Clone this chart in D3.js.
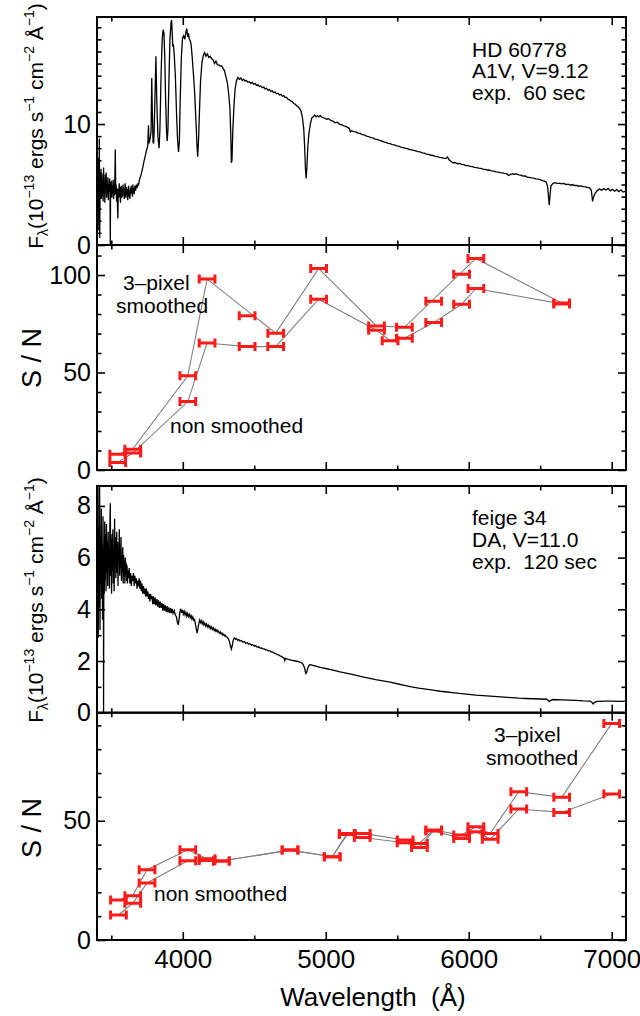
<!DOCTYPE html>
<html><head><meta charset="utf-8">
<script src="https://cdn.jsdelivr.net/npm/d3@7"></script>
<style>
body{margin:0;background:#fff}
svg{display:block;font-family:"Liberation Sans",Arial,Helvetica,sans-serif}
</style>
</head><body>
<svg id="c" width="640" height="1016"></svg>
<script>
// ---------------- DATA ----------------
const xMajorTicks = [4000, 5000, 6000, 7000];
const xMinorTicks = [3500, 4500, 5500, 6500];

// HD 60778 spectrum  [wavelength (A), flux (1e-13 erg/s/cm2/A)]
const hdSpectrum = [
[3402,6.5],[3405,3.0],[3408,7.2],[3410,4.5],[3413,1.2],[3416,8.8],[3419,0.6],[3422,5.8],[3425,4.2],[3428,6.3],
[3431,3.8],[3434,5.9],[3437,4.0],[3440,5.5],[3443,3.6],[3446,6.4],[3449,4.3],[3452,5.2],[3455,3.5],[3458,5.8],
[3461,4.6],[3464,6.0],[3467,3.9],[3470,5.1],[3473,4.2],[3476,5.6],[3479,3.7],[3482,5.0],[3485,4.4],[3488,5.5],
[3491,4.8],[3493,0.0],[3495,5.2],[3498,4.1],[3501,5.3],[3504,3.9],[3507,4.9],[3510,4.3],[3513,5.4],[3516,3.8],
[3519,5.0],[3522,4.1],[3525,5.6],[3528,7.9],[3531,4.2],[3534,5.0],[3537,3.6],[3540,4.7],[3543,3.4],[3546,2.2],
[3549,4.6],[3552,3.9],[3555,5.1],[3558,4.0],[3561,4.8],[3564,3.5],[3567,4.5],[3570,4.9],[3573,3.9],[3576,4.6],
[3579,4.0],[3582,5.0],[3585,4.2],[3588,4.7],[3591,3.8],[3594,4.4],[3597,5.1],[3600,4.3],[3603,3.9],[3606,4.8],
[3609,4.1],[3612,4.6],[3615,3.7],[3618,4.5],[3621,4.9],[3624,4.0],[3627,4.4],[3630,3.8],[3633,4.7],[3636,4.2],
[3639,4.9],[3642,4.3],[3645,4.6],[3648,4.0],[3651,5.0],[3654,4.4],[3657,4.7],[3660,4.2],[3665,4.9],[3670,4.5],
[3675,5.0],[3680,4.7],[3685,5.1],[3690,4.9],[3695,5.3],[3700,5.5],[3710,5.9],[3720,6.4],[3730,7.0],[3740,7.5],
[3750,8.0],[3755,8.2],[3760,9.9],[3763,8.4],[3768,8.6],[3773,8.9],[3778,9.4],[3783,13.8],[3787,11.0],[3792,8.5],
[3796,8.4],[3800,9.5],[3806,12.5],[3812,15.6],[3818,12.0],[3826,9.0],[3834,8.0],[3840,9.5],[3848,14.0],[3856,17.0],
[3862,17.8],[3868,17.6],[3874,15.5],[3880,12.0],[3886,9.5],[3891,8.6],[3896,9.5],[3902,13.0],[3910,17.0],[3918,18.4],
[3922,18.6],[3926,17.5],[3930,16.4],[3934,16.6],[3940,15.8],[3948,14.0],[3956,11.0],[3963,8.8],[3970,7.7],[3976,8.5],
[3982,12.0],[3990,15.5],[3998,17.1],[4006,17.3],[4014,17.0],[4022,17.6],[4028,17.9],[4034,17.2],[4040,17.5],[4046,17.0],
[4052,16.9],[4058,16.6],[4066,15.5],[4074,14.2],[4082,12.8],[4090,10.8],[4098,8.6],[4104,7.3],[4110,8.6],[4116,10.8],
[4124,13.5],[4134,15.1],[4144,15.7],[4153,15.9],[4162,15.6],[4172,15.8],[4182,15.5],[4192,15.6],[4202,15.4],[4212,15.3],
[4222,15.0],[4232,15.2],[4242,14.9],[4252,14.9],[4262,14.8],[4272,14.8],[4282,14.6],[4292,14.4],[4302,13.9],[4312,13.4],
[4322,12.4],[4330,11.2],[4336,9.0],[4340,6.8],[4344,7.0],[4350,9.5],[4358,11.5],[4366,12.9],[4376,13.6],[4386,13.85],
[4396,13.7],[4406,13.8],[4416,13.6],[4426,13.7],[4436,13.55],[4446,13.6],[4456,13.45],[4466,13.5],[4476,13.35],[4486,13.45],
[4496,13.3],[4506,13.35],[4516,13.2],[4526,13.25],[4536,13.1],[4546,13.15],[4556,13.0],[4566,13.05],[4576,12.9],[4586,12.95],
[4596,12.8],[4606,12.85],[4616,12.7],[4626,12.75],[4636,12.6],[4646,12.65],[4656,12.5],[4666,12.55],[4676,12.4],[4686,12.45],
[4696,12.3],[4706,12.35],[4716,12.2],[4726,12.2],[4736,12.05],[4746,12.0],[4756,11.9],[4766,11.85],[4776,11.7],[4786,11.65],
[4796,11.5],[4806,11.45],[4816,11.3],[4826,11.1],[4836,10.6],[4846,9.6],[4852,8.2],[4858,6.3],[4863,5.5],[4868,6.4],
[4874,8.0],[4882,9.2],[4892,10.0],[4902,10.5],[4912,10.6],[4922,10.75],[4932,10.6],[4942,10.7],[4952,10.6],[4962,10.7],
[4975,10.55],[4990,10.5],[5005,10.4],[5020,10.45],[5035,10.3],[5050,10.25],[5065,10.1],[5080,10.15],[5095,10.0],[5110,9.95],
[5125,9.85],[5140,9.8],[5155,9.7],[5165,9.65],[5172,9.35],[5180,9.45],[5195,9.38],[5210,9.35],[5225,9.25],[5240,9.22],
[5255,9.12],[5270,9.1],[5285,9.0],[5300,8.97],[5315,8.88],[5330,8.85],[5345,8.76],[5360,8.73],[5375,8.65],[5390,8.6],
[5405,8.52],[5420,8.48],[5435,8.4],[5450,8.38],[5465,8.3],[5480,8.27],[5495,8.2],[5510,8.17],[5525,8.1],[5540,8.06],
[5555,8.0],[5570,7.97],[5585,7.9],[5600,7.87],[5615,7.82],[5630,7.78],[5645,7.72],[5660,7.7],[5675,7.62],[5690,7.6],
[5705,7.52],[5720,7.5],[5735,7.42],[5750,7.4],[5765,7.33],[5780,7.3],[5795,7.25],[5810,7.22],[5825,7.18],[5840,7.15],
[5852,7.28],[5862,7.05],[5876,6.9],[5890,6.8],[5905,6.82],[5920,6.72],[5935,6.75],[5950,6.66],[5965,6.65],[5980,6.57],
[5995,6.56],[6010,6.5],[6025,6.48],[6040,6.42],[6055,6.4],[6070,6.35],[6085,6.33],[6100,6.27],[6115,6.26],[6130,6.2],
[6145,6.18],[6160,6.12],[6175,6.1],[6190,6.05],[6205,6.03],[6220,5.98],[6235,5.97],[6250,5.93],[6265,5.9],[6278,5.75],
[6290,5.82],[6305,5.88],[6320,5.85],[6335,5.87],[6350,5.8],[6365,5.78],[6380,5.7],[6395,5.72],[6410,5.62],[6425,5.6],
[6440,5.55],[6455,5.52],[6470,5.47],[6485,5.45],[6500,5.4],[6515,5.33],[6530,5.28],[6542,5.2],[6552,4.8],[6558,4.0],
[6563,3.3],[6568,4.0],[6575,4.9],[6590,5.1],[6605,5.15],[6620,5.08],[6635,5.12],[6650,5.05],[6665,5.1],[6680,5.0],
[6695,5.03],[6710,4.96],[6725,4.98],[6740,4.92],[6755,4.93],[6770,4.86],[6785,4.88],[6800,4.82],[6815,4.8],[6830,4.76],
[6845,4.72],[6858,4.5],[6866,3.6],[6874,4.0],[6885,4.3],[6900,4.5],[6915,4.62],[6930,4.52],[6945,4.66],[6960,4.55],
[6975,4.68],[6990,4.48],[7005,4.6],[7020,4.45],[7035,4.58],[7050,4.42],[7065,4.55],[7080,4.38],[7100,4.45]
];

// Feige 34 spectrum [wavelength (A), flux]
const feigeSpectrum = [
[3400,3.0],[3403,6.5],[3406,9.2],[3409,2.9],[3412,7.2],[3415,4.1],[3418,9.2],[3421,3.2],[3424,6.8],[3427,5.0],
[3430,7.9],[3433,4.4],[3436,6.5],[3439,3.6],[3442,7.6],[3445,5.2],[3446,0.0],[3448,6.2],[3451,4.6],[3454,7.4],
[3457,5.1],[3460,6.9],[3463,4.7],[3466,7.3],[3469,5.4],[3472,6.6],[3475,4.9],[3478,7.0],[3481,5.6],[3484,6.2],
[3487,4.8],[3490,7.2],[3493,8.1],[3496,5.3],[3499,6.7],[3502,4.6],[3505,6.9],[3508,5.5],[3511,7.1],[3514,5.0],
[3517,6.4],[3520,4.7],[3523,7.5],[3526,5.6],[3529,6.8],[3532,5.2],[3535,6.3],[3538,7.0],[3541,5.4],[3544,6.6],
[3547,4.9],[3550,6.5],[3553,5.8],[3556,7.1],[3559,5.3],[3562,6.2],[3565,5.6],[3568,6.8],[3571,5.1],[3574,6.0],
[3577,5.5],[3580,6.4],[3583,5.0],[3586,6.1],[3589,5.3],[3592,5.9],[3595,5.0],[3598,6.0],[3601,5.4],[3604,5.8],
[3607,5.1],[3610,5.7],[3613,5.0],[3616,5.5],[3620,5.2],[3625,5.6],[3630,5.0],[3635,5.4],[3640,4.9],[3645,5.3],
[3650,5.1],[3655,5.4],[3660,4.9],[3665,5.3],[3670,5.0],[3675,5.2],[3680,4.8],[3685,5.1],[3690,4.9],[3695,5.2],
[3700,4.8],[3705,5.1],[3710,4.7],[3715,5.0],[3720,4.6],[3725,4.9],[3730,4.6],[3735,4.8],[3740,4.5],[3745,4.8],
[3750,4.5],[3755,4.7],[3760,4.4],[3765,4.6],[3770,4.3],[3775,4.6],[3780,4.4],[3785,4.5],[3790,4.2],[3795,4.5],
[3800,4.2],[3806,4.45],[3812,4.15],[3818,4.4],[3824,4.1],[3830,4.35],[3836,4.05],[3842,4.3],[3848,4.05],[3854,4.25],
[3860,3.95],[3866,4.2],[3872,3.95],[3878,4.15],[3884,3.9],[3890,4.12],[3896,3.88],[3902,4.08],[3908,3.86],[3914,4.05],
[3920,3.85],[3926,4.02],[3932,3.84],[3940,3.95],[3948,3.78],[3956,3.7],[3962,3.5],[3968,3.4],[3974,3.6],[3980,3.9],
[3986,4.02],[3992,3.86],[3998,3.98],[4004,3.82],[4010,3.92],[4016,3.78],[4022,3.88],[4028,3.74],[4034,3.84],[4040,3.72],
[4046,3.8],[4052,3.68],[4058,3.76],[4064,3.62],[4070,3.7],[4076,3.58],[4082,3.6],[4088,3.45],[4094,3.25],[4100,3.08],
[4106,3.25],[4112,3.45],[4118,3.58],[4124,3.48],[4130,3.56],[4136,3.44],[4142,3.52],[4148,3.4],[4154,3.47],[4160,3.36],
[4166,3.43],[4172,3.32],[4178,3.39],[4184,3.29],[4190,3.35],[4196,3.25],[4202,3.32],[4208,3.22],[4214,3.28],[4220,3.18],
[4226,3.24],[4232,3.15],[4238,3.2],[4244,3.12],[4250,3.16],[4256,3.08],[4262,3.12],[4268,3.04],[4274,3.08],[4280,3.0],
[4286,3.04],[4292,2.97],[4298,3.0],[4304,2.93],[4312,2.92],[4320,2.85],[4328,2.72],[4334,2.56],[4340,2.46],[4346,2.6],
[4352,2.8],[4360,2.9],[4368,2.84],[4376,2.87],[4384,2.8],[4392,2.83],[4400,2.77],[4410,2.79],[4420,2.73],[4430,2.75],
[4440,2.69],[4450,2.71],[4460,2.65],[4470,2.67],[4480,2.61],[4490,2.63],[4500,2.58],[4510,2.59],[4520,2.54],[4530,2.55],
[4540,2.5],[4550,2.51],[4560,2.47],[4570,2.47],[4580,2.43],[4590,2.43],[4600,2.39],[4610,2.39],[4620,2.35],[4630,2.34],
[4640,2.3],[4650,2.29],[4660,2.25],[4670,2.24],[4680,2.2],[4690,2.18],[4700,2.14],[4708,2.12],[4713,2.02],[4718,2.1],
[4728,2.08],[4738,2.06],[4748,2.05],[4758,2.03],[4768,2.02],[4778,2.01],[4788,2.0],[4798,1.99],[4808,1.98],[4818,1.96],
[4828,1.94],[4838,1.9],[4846,1.82],[4854,1.68],[4860,1.52],[4866,1.55],[4874,1.72],[4884,1.84],[4894,1.86],[4910,1.83],
[4930,1.8],[4950,1.77],[4970,1.74],[5000,1.71],[5050,1.65],[5100,1.58],[5150,1.52],[5200,1.46],[5250,1.4],[5300,1.34],
[5350,1.28],[5400,1.23],[5450,1.18],[5500,1.12],[5550,1.06],[5600,1.0],[5650,0.95],[5700,0.91],[5750,0.87],[5800,0.83],
[5850,0.8],[5900,0.77],[5950,0.74],[6000,0.71],[6050,0.68],[6100,0.66],[6150,0.64],[6200,0.62],[6250,0.6],[6300,0.58],
[6350,0.56],[6400,0.55],[6450,0.54],[6500,0.53],[6545,0.52],[6558,0.46],[6563,0.43],[6570,0.47],[6590,0.51],[6650,0.5],
[6700,0.49],[6750,0.48],[6800,0.46],[6850,0.45],[6862,0.4],[6870,0.34],[6880,0.4],[6900,0.44],[6950,0.45],[7000,0.45],
[7050,0.44],[7100,0.45]
];

// S/N, HD 60778 (upper S/N panel)
const snWaveTop      = [3545, 3650, 4035, 4170, 4450, 4650, 4950, 5355, 5450, 5550, 5755, 5950, 6050, 6650];
const snSmoothTop    = [8.1, 10.7, 48.3, 97.9, 79.1, 70.2, 103.3, 73.9, null, 73.2, 86.6, 100.4, 108.5, 85.6];
const snRawTop       = [3.9, 8.7, 35.1, 65.1, 63.3, 63.3, 87.6, 71.7, 66.3, 67.6, 75.6, 85.0, 93.1, 85.2];
const snSmoothTopLinked = [1, 1, 1, 1, 0, 1, 1, 1, 0, 1, 0, 0, 1, 1];
const snRawTopLinked    = [1, 1, 1, 1, 1, 1, 1, 1, 1, 1, 1, 1, 1, 1];

// S/N, Feige 34 (lower S/N panel)
const snWaveBot   = [3550, 3650, 3750, 4035, 4170, 4270, 4750, 5045, 5150, 5255, 5555, 5655, 5755, 5950, 6050, 6150, 6350, 6650, 7000];
const snSmoothBot = [16.8, 18.6, 29.5, 37.8, 34.1, 33.1, 37.7, 34.9, 44.7, 44.7, 41.9, 40.5, 46.1, 44.0, 47.5, 44.7, 62.2, 59.8, 90.8];
const snRawBot    = [10.5, 15.4, 23.9, 33.2, 33.3, 33.1, 37.7, 34.9, 44.2, 43.0, 40.8, 38.8, 45.7, 42.6, 45.4, 42.2, 54.9, 53.5, 61.2];
const snBinHalfWidth = 55; // Angstrom

// y-axis tick values
const p1Major = [0, 10], p1Minor = [1,2,3,4,5,6,7,8,9,11,12,13,14,15,16,17,18];
const p2Major = [0, 50, 100], p2Minor = [10,20,30,40,60,70,80,90,110];
const p3Major = [0, 2, 4, 6, 8], p3Minor = [1, 3, 5, 7];
const p4Major = [0, 50], p4Minor = [10,20,30,40,60,70,80,90];

const hdText = ["HD 60778", "A1V, V=9.12", "exp.  60 sec"];
const feigeText = ["feige 34", "DA, V=11.0", "exp.  120 sec"];

// ---------------- DRAWING ----------------
const svg = d3.select("#c");
const L = 97, R = 626;
const x = d3.scaleLinear().domain([3400, 7100]).range([L, R]);

const panels = [
  {top: 17,    bottom: 245,   y: d3.scaleLinear().domain([0, 18.85]).range([245, 17]),     major: p1Major, minor: p1Minor},
  {top: 245,   bottom: 470,   y: d3.scaleLinear().domain([0, 115.4]).range([470, 245]),    major: p2Major, minor: p2Minor},
  {top: 486,   bottom: 712.7, y: d3.scaleLinear().domain([0, 8.77]).range([712.7, 486]),   major: p3Major, minor: p3Minor},
  {top: 712.7, bottom: 940,   y: d3.scaleLinear().domain([0, 95.3]).range([940, 712.7]),   major: p4Major, minor: p4Minor, xlabels: true}
];

const defs = svg.append("defs");
panels.forEach((p, i) => {
  defs.append("clipPath").attr("id", "clip" + i)
    .append("rect").attr("x", L).attr("y", p.top).attr("width", R - L).attr("height", p.bottom - p.top);
});

function styleAxis(g, fs) {
  g.select(".domain").remove();
  g.attr("font-family", null).attr("font-size", fs);
  g.selectAll("line").attr("stroke", "#000").attr("stroke-width", 1.6);
  g.selectAll("text").attr("fill", "#000");
}

function drawAxes(p) {
  const g = svg.append("g");
  const bigX = 8, smallX = 4.5, bigY = 8, smallY = 4.5;
  g.append("g").attr("transform", `translate(0,${p.bottom})`)
    .call(d3.axisBottom(x).tickValues(xMajorTicks).tickSizeInner(-bigX).tickSizeOuter(0).tickPadding(9.5)
      .tickFormat(p.xlabels ? d3.format("d") : () => ""))
    .call(s => styleAxis(s, 26));
  g.append("g").attr("transform", `translate(0,${p.bottom})`)
    .call(d3.axisBottom(x).tickValues(xMinorTicks).tickSizeInner(-smallX).tickSizeOuter(0).tickFormat(() => ""))
    .call(s => styleAxis(s, 10));
  g.append("g").attr("transform", `translate(0,${p.top})`)
    .call(d3.axisTop(x).tickValues(xMajorTicks).tickSizeInner(-bigX).tickSizeOuter(0).tickFormat(() => ""))
    .call(s => styleAxis(s, 10));
  g.append("g").attr("transform", `translate(0,${p.top})`)
    .call(d3.axisTop(x).tickValues(xMinorTicks).tickSizeInner(-smallX).tickSizeOuter(0).tickFormat(() => ""))
    .call(s => styleAxis(s, 10));
  g.append("g").attr("transform", `translate(${L},0)`)
    .call(d3.axisLeft(p.y).tickValues(p.major).tickSizeInner(-bigY).tickSizeOuter(0).tickPadding(6).tickFormat(d3.format("d")))
    .call(s => styleAxis(s, 25));
  g.append("g").attr("transform", `translate(${L},0)`)
    .call(d3.axisLeft(p.y).tickValues(p.minor).tickSizeInner(-smallY).tickSizeOuter(0).tickFormat(() => ""))
    .call(s => styleAxis(s, 10));
  g.append("g").attr("transform", `translate(${R},0)`)
    .call(d3.axisRight(p.y).tickValues(p.major).tickSizeInner(-bigY).tickSizeOuter(0).tickFormat(() => ""))
    .call(s => styleAxis(s, 10));
  g.append("g").attr("transform", `translate(${R},0)`)
    .call(d3.axisRight(p.y).tickValues(p.minor).tickSizeInner(-smallY).tickSizeOuter(0).tickFormat(() => ""))
    .call(s => styleAxis(s, 10));
  g.append("rect").attr("x", L).attr("y", p.top).attr("width", R - L).attr("height", p.bottom - p.top)
    .attr("fill", "none").attr("stroke", "#000").attr("stroke-width", 2);
}

function drawSpectrum(data, p, i) {
  const line = d3.line().x(d => x(d[0])).y(d => p.y(d[1]));
  svg.append("path").datum(data).attr("clip-path", `url(#clip${i})`)
    .attr("d", line).attr("fill", "none").attr("stroke", "#000").attr("stroke-width", 1.3)
    .attr("stroke-linejoin", "miter");
}
drawSpectrum(hdSpectrum, panels[0], 0);
drawSpectrum(feigeSpectrum, panels[2], 2);

function drawSN(waves, vals, linked, p) {
  const pts = waves.map((w, k) => ({w, v: vals[k], link: linked ? linked[k] : 1})).filter(d => d.v != null);
  const line = d3.line().x(d => x(d.w)).y(d => p.y(d.v));
  svg.append("path").datum(pts.filter(d => d.link)).attr("d", line)
    .attr("fill", "none").attr("stroke", "#808080").attr("stroke-width", 1.1);
  return pts;
}
function drawBars(pts, p) {
  const g = svg.append("g").attr("stroke", "#ff1a1a").attr("stroke-width", 3).attr("fill", "none");
  pts.forEach(d => {
    const x0 = x(d.w - snBinHalfWidth), x1 = x(d.w + snBinHalfWidth), yy = p.y(d.v);
    g.append("path").attr("d", `M${x0},${yy}H${x1}M${x0},${yy - 4.5}V${yy + 4.5}M${x1},${yy - 4.5}V${yy + 4.5}`);
  });
}
const tS = drawSN(snWaveTop, snSmoothTop, snSmoothTopLinked, panels[1]);
const tR = drawSN(snWaveTop, snRawTop, snRawTopLinked, panels[1]);
const bS = drawSN(snWaveBot, snSmoothBot, null, panels[3]);
const bR = drawSN(snWaveBot, snRawBot, null, panels[3]);
drawBars(tS, panels[1]); drawBars(tR, panels[1]);
drawBars(bS, panels[3]); drawBars(bR, panels[3]);

panels.forEach(drawAxes);

// ---------------- TEXT ----------------
function fluxLabel(cx, cy) {
  const t = svg.append("text").attr("transform", `translate(${cx},${cy}) rotate(-90)`)
    .attr("text-anchor", "middle").attr("font-size", 21).style("white-space", "pre");
  const segs = [
    ["F", 0], ["λ", 1], ["(10", 0], ["−13", 2], [" ergs s", 0], ["−1", 2], [" cm", 0], ["−2", 2], [" Å", 0], ["−1", 2], [")", 0]
  ];
  let cur = 0;
  segs.forEach(([s, k]) => {
    const target = k === 1 ? 5 : k === 2 ? -9 : 0;
    t.append("tspan").attr("dy", target - cur).attr("font-size", k ? 14 : 21).text(s);
    cur = target;
  });
}
fluxLabel(43, 126);
fluxLabel(43, 600);

function snLabel(cx, cy) {
  svg.append("text").attr("transform", `translate(${cx},${cy}) rotate(-90)`)
    .attr("text-anchor", "middle").attr("font-size", 27).style("white-space", "pre").text("S / N");
}
snLabel(41, 358);
snLabel(41, 828);

function note(lines, x0, y0, dy) {
  lines.forEach((s, k) => svg.append("text").attr("x", x0).attr("y", y0 + k * dy)
    .attr("font-size", 21).style("white-space", "pre").text(s));
}
note(hdText, 472, 56.7, 21.7);
note(feigeText, 472, 525, 22.2);

function label(s, x0, y0) {
  svg.append("text").attr("x", x0).attr("y", y0).attr("font-size", 21).style("white-space", "pre").text(s);
}
label("3–pixel", 123, 290);
label("smoothed", 116, 312.5);
label("non smoothed", 170, 433.3);
label("non smoothed", 154, 900.7);
label("3–pixel", 494, 742.3);
label("smoothed", 486, 765);

svg.append("text").attr("x", 373).attr("y", 1006).attr("text-anchor", "middle")
  .attr("font-size", 26).style("white-space", "pre").text("Wavelength  (Å)");
</script>
</body></html>
